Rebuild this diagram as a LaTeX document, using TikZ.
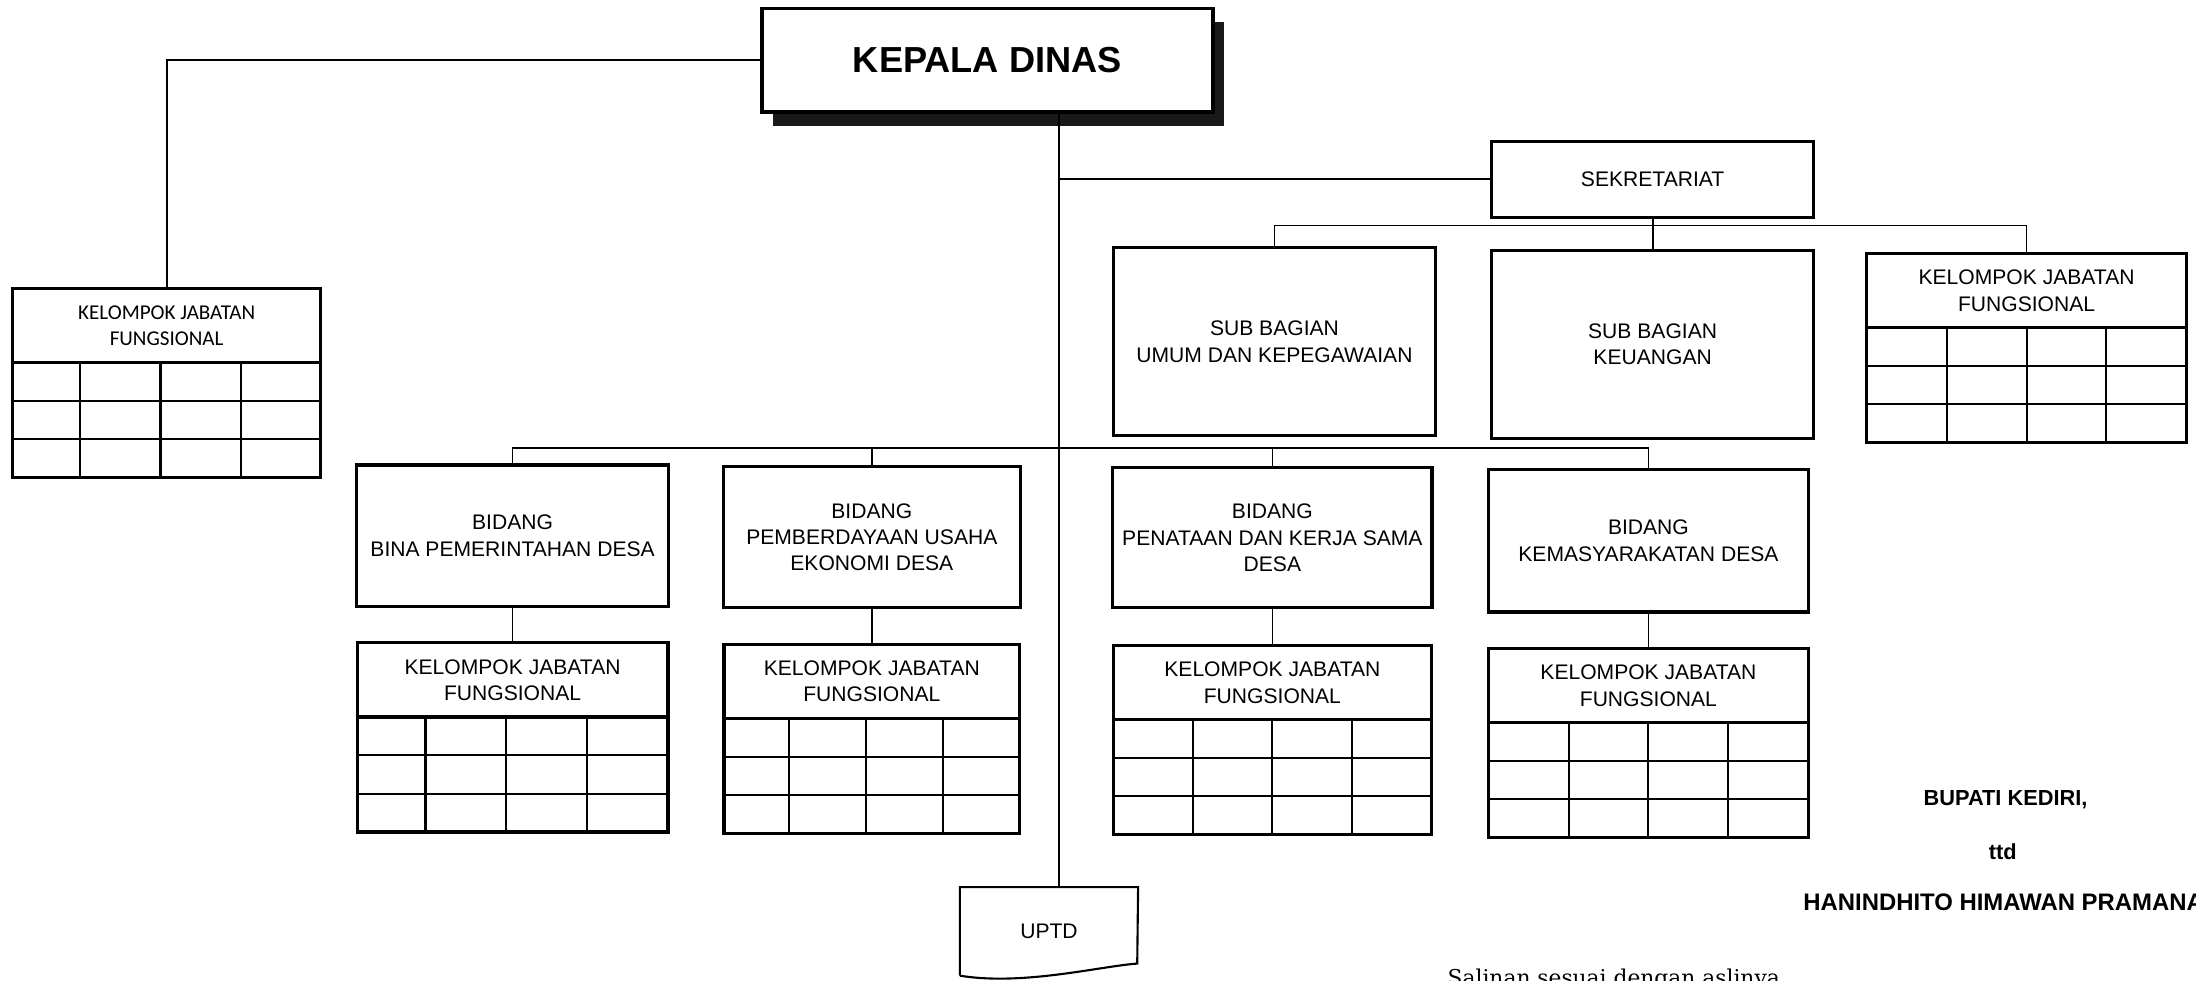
\documentclass[tikz,border=0pt]{standalone}
\usepackage{fontspec}
\setmainfont{Liberation Sans}
\newfontfamily\carlito{Carlito}
\newfontfamily\dejaserif{DejaVu Serif}
\usetikzlibrary{shadows}
\newdimen\unitpx
\unitpx=0.014005cm

\begin{document}
\begin{tikzpicture}[x=0.014005cm, y=-0.014005cm, line width=0.5pt,
    unit/.style={draw, fill=white, line width=0.9pt, align=center, inner sep=0pt,
        outer sep=0pt, font=\fontsize{6}{7.5}\selectfont},
    sign/.style={inner sep=0pt, font=\fontsize{6.2}{7.5}\bfseries}]
\useasboundingbox (0,0) rectangle (1568,700);

\node[unit, line width=1pt, minimum width=322*\unitpx, minimum height=74*\unitpx,
    font=\fontsize{10.3}{12}\bfseries,
    drop shadow={shadow xshift=1.1mm, shadow yshift=-1.4mm, fill=black!90, opacity=1}]
    (kadis) at (705,43) {KEPALA DINAS};

\node[unit, minimum width=230*\unitpx, minimum height=54*\unitpx] (sek) at (1180,128) {SEKRETARIAT};
\node[unit, minimum width=230*\unitpx, minimum height=134*\unitpx] (subumum) at (910,244) {SUB BAGIAN\\UMUM DAN KEPEGAWAIAN};
\node[unit, minimum width=230*\unitpx, minimum height=134*\unitpx] (subkeu) at (1180,246) {SUB BAGIAN\\KEUANGAN};

\node[unit, minimum width=223*\unitpx, minimum height=101*\unitpx] (bid1) at (366,382.5) {BIDANG\\BINA PEMERINTAHAN DESA};
\node[unit, minimum width=212*\unitpx, minimum height=101*\unitpx] (bid2) at (622.5,383.5) {BIDANG\\PEMBERDAYAAN USAHA\\EKONOMI DESA};
\node[unit, minimum width=228*\unitpx, minimum height=100*\unitpx] (bid3) at (908.5,384) {BIDANG\\PENATAAN DAN KERJA SAMA\\DESA};
\node[unit, minimum width=228*\unitpx, minimum height=102*\unitpx] (bid4) at (1177,386) {BIDANG\\KEMASYARAKATAN DESA};

\foreach \n/\x/\y/\w/\ca/\cb/\cc/\f in {kl/9/206/220/.22/.48/.74/\carlito,
    k1/255/459/222/.22/.48/.74/\relax, k2/517/460/211/.22/.48/.74/\relax,
    k3/795/461/227/.25/.50/.75/\relax, k4/1063/463/228/.25/.50/.75/\relax,
    kr/1333/181/228/.25/.50/.75/\relax}
{
    \node[unit, anchor=north west, minimum width=\w*\unitpx, minimum height=53*\unitpx,
        font=\f\fontsize{6}{7.5}\selectfont] (\n) at (\x,\y) {KELOMPOK JABATAN\\FUNGSIONAL};
    \draw[line width=0.9pt] (\n.south west) rectangle ++(\w,82);
    \foreach \c in {\ca,\cb,\cc}
        \draw[line width=0.6pt] (\x+\c*\w,\y+53) -- ++(0,82);
    \foreach \r in {1,2}
        \draw[line width=0.6pt] (\x,\y+53+\r*82/3) -- ++(\w,0);
}

\node[inner sep=0pt, minimum width=126*\unitpx, minimum height=62*\unitpx,
    font=\fontsize{6}{7.5}\selectfont] (uptd) at (749,665) {UPTD};
\draw[line width=0.6pt] (uptd.south west) -- (uptd.north west) -- (uptd.north east) -- (812,688)
    .. controls (785,690) and (730,704) .. (uptd.south west);

\coordinate (trunk) at (756,0);
\coordinate (sbus) at (0,161);
\coordinate (bbus) at (0,320);

\draw (kadis.west) -| (kl.north);
\draw (kadis.south -| trunk) -- (uptd.north -| trunk);
\draw (sek.west) -- (sek.west -| trunk);
\draw (subumum.north) |- (sbus -| kr.north) -- (kr.north);
\draw (sek.south) -- (subkeu.north);
\draw (bid1.north) |- (bbus -| bid4.north) -- (bid4.north);
\foreach \i in {2,3}
    \draw (bid\i.north) -- (bid\i.north |- bbus);
\foreach \i in {1,...,4}
    \draw (bid\i.south) -- (k\i.north);

\node[sign] (bupati) at (1432,571) {BUPATI KEDIRI,};
\node[sign] (ttd) at (1430,608) {ttd};
\node[sign, anchor=west, font=\fontsize{6.8}{8}\bfseries] (pejabat) at (1287,644) {HANINDHITO HIMAWAN PRAMANA};
\node[inner sep=0pt, anchor=base west, font=\dejaserif\fontsize{6.2}{7.5}\selectfont]
    (salinan) at (1033,704) {Salinan sesuai dengan aslinya};

\end{tikzpicture}
\end{document}
